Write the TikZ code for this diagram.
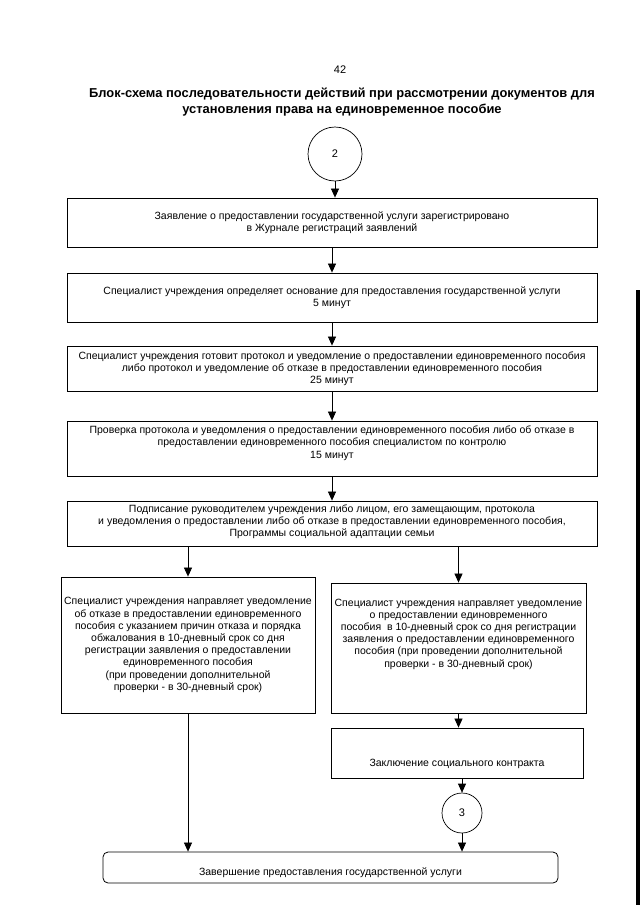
\documentclass[tikz,border=0pt]{standalone}
\usepackage{fontspec}
\setmainfont{Liberation Sans}
\usetikzlibrary{arrows.meta}

\begin{document}
\begin{tikzpicture}[x=1pt, y=-1pt, >={Triangle[width=8pt,length=9pt]},
        box/.style={draw, line width=0.8pt, align=center, inner sep=0pt, font=\fontsize{10.5}{12.2}\selectfont},
        circ/.style={draw, circle, line width=0.7pt, inner sep=0pt, font=\fontsize{11}{13}\selectfont},
        link/.style={->, line width=0.7pt}]
        \useasboundingbox (0,0) rectangle (640,905);

        % Заголовок
        \node[font=\fontsize{11}{13}\selectfont] (num) at (340,70) {42};
        \node[align=center, font=\fontsize{12.9}{16}\bfseries] (ttl) at (342,102)
            {Блок-схема последовательности действий при рассмотрении документов для\\
             установления права на единовременное пособие};

        % Основные шаги
        \node[circ, minimum size=54pt] (c2) at (335,154) {2};
        \node[box, minimum width=530pt, minimum height=49pt] (b1) at (332,222.5)
            {Заявление о предоставлении государственной услуги зарегистрировано\\
             в Журнале регистраций заявлений};
        \node[box, minimum width=530pt, minimum height=49pt] (b2) at (332,297.5)
            {Специалист учреждения определяет основание для предоставления государственной услуги\\
             5 минут};
        \node[box, minimum width=530pt, minimum height=45pt] (b3) at (332,368.5)
            {Специалист учреждения готовит протокол и уведомление о предоставлении единовременного пособия\\
             либо протокол и уведомление об отказе в предоставлении единовременного пособия\\
             25 минут};
        \node[box, minimum width=530pt, minimum height=55pt, text depth=13pt] (b4) at (332,448.5)
            {Проверка протокола и уведомления о предоставлении единовременного пособия либо об отказе в\\
             предоставлении единовременного пособия специалистом по контролю\\
             15 минут};
        \node[box, minimum width=530pt, minimum height=45pt, text depth=6pt] (b5) at (332,523.5)
            {Подписание руководителем учреждения либо лицом, его замещающим, протокола\\
             и уведомления о предоставлении либо об отказе в предоставлении единовременного пособия,\\
             Программы социальной адаптации семьи};

        % Ветви
        \node[box, minimum width=254pt, minimum height=136pt] (lb) at (188,645)
            {Специалист учреждения направляет уведомление\\
             об отказе в предоставлении единовременного\\
             пособия с указанием причин отказа и порядка\\
             обжалования в 10-дневный срок со дня\\
             регистрации заявления о предоставлении\\
             единовременного пособия\\
             (при проведении дополнительной\\
             проверки - в 30-дневный срок)};
        \node[box, minimum width=255pt, minimum height=130pt, text depth=30pt] (rb) at (458.5,648)
            {Специалист учреждения направляет уведомление\\
             о предоставлении единовременного\\
             пособия~ в 10-дневный срок со дня регистрации\\
             заявления о предоставлении единовременного\\
             пособия (при проведении дополнительной\\
             проверки - в 30-дневный срок)};
        \node[box, minimum width=252pt, minimum height=50pt, text height=30pt] (ct) at (457,753)
            {Заключение социального контракта};
        \node[circ, minimum size=40pt] (c3) at (462,813) {3};
        \node[box, rounded corners=5pt, minimum width=455pt, minimum height=31pt, text height=19pt] (fin) at (330.5,867.5)
            {Завершение предоставления государственной услуги};

        % Стрелки
        \draw[link] (c2) -- (c2 |- b1.north);
        \foreach \a/\b in {b1/b2, b2/b3, b3/b4, b4/b5}
            \draw[link] (\a) -- (\b);
        \draw[link] (b5.south -| lb) -- (lb);
        \draw[link] (b5.south -| rb) -- (rb);
        \draw[link] (lb) -- (lb |- fin.north);
        \draw[link] (rb) -- (rb |- ct.north);
        \draw[link] (ct.south -| c3) -- (c3);
        \draw[link] (c3) -- (c3 |- fin.north);

        % край листа
        \fill (636,290) rectangle (640,905);
    \end{tikzpicture}
\end{document}
